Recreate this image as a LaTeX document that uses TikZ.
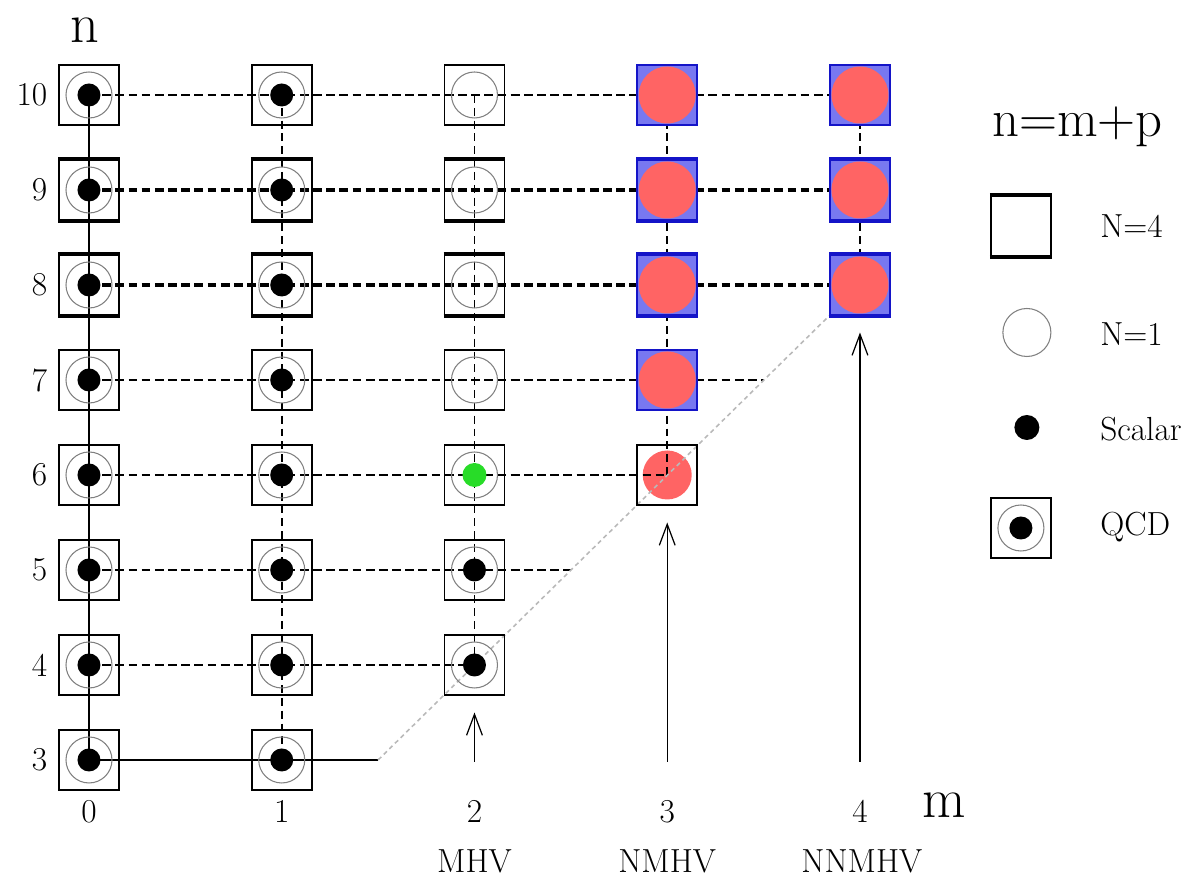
\documentclass[tikz,border=0pt]{standalone}
\usetikzlibrary{arrows.meta,backgrounds}

\definecolor{boxblue}{RGB}{120,120,240}
\definecolor{edgeblue}{RGB}{20,20,200}
\definecolor{ampred}{RGB}{255,100,100}
\definecolor{dotgreen}{RGB}{40,220,40}

\begin{document}
\begin{tikzpicture}[x=3.855cm, y=1.9cm,
    box/.style={draw, rectangle, line width=1.1pt, minimum size=1.2cm, inner sep=0pt},
    susy/.style={box, path picture={\draw[gray, line width=0.6pt] (path picture bounding box.center) circle (0.46cm);}},
    qcd/.style={box, path picture={\draw[gray, line width=0.6pt] (path picture bounding box.center) circle (0.46cm);
        \fill (path picture bounding box.center) circle (0.23cm);}},
    mhvpoint/.style={box, path picture={\draw[gray, line width=0.6pt] (path picture bounding box.center) circle (0.46cm);
        \fill[dotgreen] (path picture bounding box.center) circle (0.24cm);}},
    nmhv/.style={box, draw=edgeblue, fill=boxblue, path picture={\fill[ampred] (path picture bounding box.center) circle (0.57cm);}},
    link/.style={dash pattern=on 5pt off 2.5pt, line width=1.1pt},
    linkheavy/.style={link, line width=2pt},
    rung/.style={dash pattern=on 4.5pt off 2.8pt, line width=0.9pt},
    rail/.style={line width=0.8pt},
    bound/.style={gray!55, dash pattern=on 2.5pt off 2pt, line width=0.9pt},
    arr/.style={-{Straight Barb[length=12pt,width=9pt]}, line width=0.7pt},
    lab/.style={font=\fontsize{19}{22}\selectfont, inner sep=0pt},
    big/.style={font=\fontsize{32}{38}\selectfont, inner sep=0pt}]
    \useasboundingbox (-0.4617,1.758) rectangle (5.733,11.0);

    % grid of amplitudes
    \foreach \n in {3,...,10} {
        \node[qcd] (q-0-\n) at (0,\n) {};
        \node[qcd] (q-1-\n) at (1,\n) {};
    }
    \foreach \n in {7,...,10} \node[susy] (q-2-\n) at (2,\n) {};
    \node[mhvpoint] (q-2-6) at (2,6) {};
    \foreach \n in {4,5} \node[qcd] (q-2-\n) at (2,\n) {};
    \foreach \n in {7,...,10} \node[nmhv] (q-3-\n) at (3,\n) {};
    \node[box] (q-3-6) at (3,6) {};
    \foreach \n in {8,9,10} \node[nmhv] (q-4-\n) at (4,\n) {};
    \foreach \m/\c in {0/black,1/black,2/black,3/edgeblue,4/edgeblue}
        \foreach \n in {8,9}
            \draw[\c, line width=2.2pt] (q-\m-\n.north west) -- (q-\m-\n.north east)
                (q-\m-\n.south west) -- (q-\m-\n.south east);

    \coordinate (d3) at (1.5,3);
    \coordinate (d5) at (2.5,5);
    \coordinate (d7) at (3.5,7);

    \begin{scope}[on background layer]
        \fill[ampred] (q-3-6.center) circle (0.49cm);
        \draw[link] (q-0-10.center) -- (q-4-10.center);
        \draw[linkheavy] (q-0-9.center) -- (q-4-9.center);
        \draw[linkheavy] (q-0-8.center) -- (q-4-8.center);
        \draw[link] (q-0-7.center) -- (d7);
        \draw[link] (q-0-6.center) -- (q-3-6.center);
        \draw[link] (q-0-5.center) -- (d5);
        \draw[link] (q-0-4.center) -- (q-2-4.center);
        \draw[rail] (q-0-3.center) -- (d3);
        \draw[rail] (q-0-10.center) -- (q-0-3.center);
        \draw[rung] (q-1-10.center) -- (q-1-3.center);
        \draw[rung] (q-2-10.center) -- (q-2-4.center);
        \draw[rung] (q-3-10.center) -- (q-3-6.center);
        \draw[rung] (q-4-10.center) -- (q-4-8.center);
        \draw[bound] (d3) -- (q-4-8.south west);
    \end{scope}

    % arrows to the first amplitude of each class
    \foreach \m/\t in {2/3.5,3/5.5,4/7.5} {
        \coordinate (a-\m) at (\m,2.98);
        \coordinate (t-\m) at (\m,\t);
        \draw[arr] (a-\m) -- (t-\m);
    }

    % axes
    \foreach \n in {3,...,10} \node[lab, anchor=east] (ln-\n) at (-0.215,\n) {\n};
    \foreach \m in {0,...,4} \node[lab] (lm-\m) at (\m,2.46) {\m};
    \node[lab] (lt-2) at (2,1.93) {MHV};
    \node[lab] (lt-3) at (3,1.93) {NMHV};
    \node[lab] (lt-4) at (4.01,1.93) {NNMHV};
    \node[big] (axis-n) at (-0.02,10.68) {n};
    \node[big] (axis-m) at (4.436,2.526) {m};

    % legend
    \node[font=\fontsize{30}{36}\selectfont, inner sep=0pt, anchor=base west] (k-rel) at (4.685,9.558) {n=m+p};
    \node[box] (k-box) at (4.835,8.62) {};
    \draw[line width=2.2pt] (k-box.north west) -- (k-box.north east) (k-box.south west) -- (k-box.south east);
    \node[lab, anchor=base west] (k-box-t) at (5.245,8.495) {N=4};
    \node[draw=gray, line width=0.6pt, circle, minimum size=0.96cm, inner sep=0pt] (k-circ) at (4.866,7.5) {};
    \node[lab, anchor=base west] (k-circ-t) at (5.245,7.368) {N=1};
    \node[fill, circle, minimum size=0.5cm, inner sep=0pt] (k-dot) at (4.866,6.5) {};
    \node[lab, anchor=base west] (k-dot-t) at (5.245,6.368) {Scalar};
    \node[qcd] (k-qcd) at (4.835,5.442) {};
    \node[lab, anchor=base west] (k-qcd-t) at (5.245,5.368) {QCD};
\end{tikzpicture}
\end{document}
